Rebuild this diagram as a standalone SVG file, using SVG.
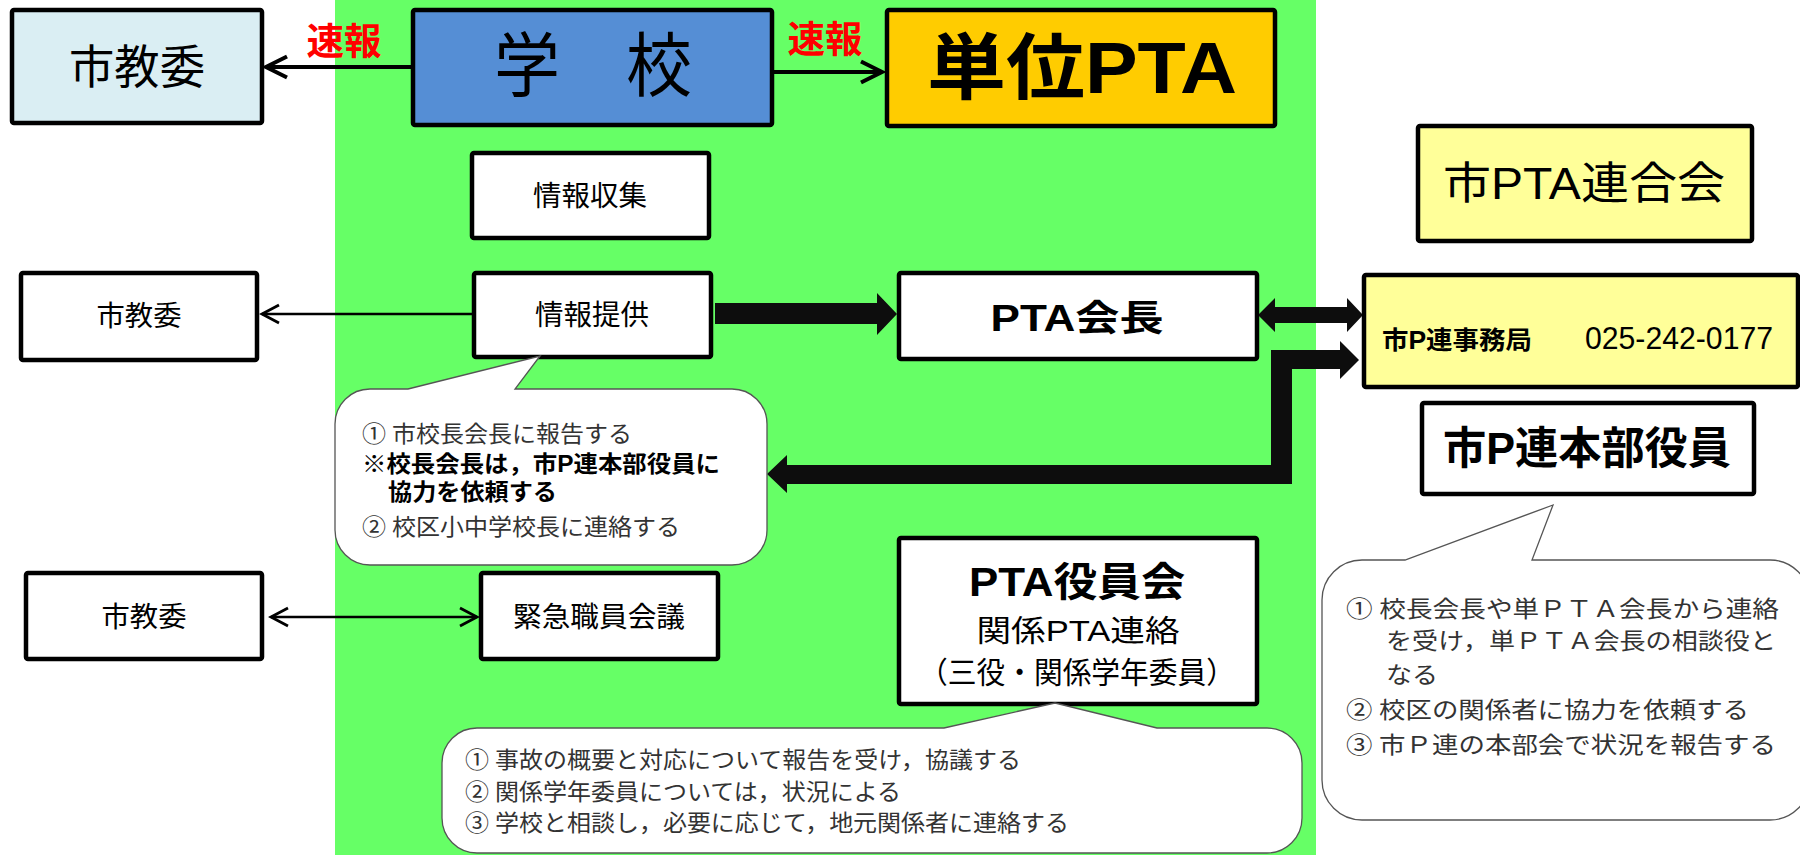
<svg xmlns="http://www.w3.org/2000/svg" width="1800" height="855" viewBox="0 0 1800 855">
<style>
.box{stroke:#000;stroke-width:4.5}
.t{font-family:"Liberation Sans","Noto Sans CJK JP",sans-serif;text-anchor:middle;dominant-baseline:central;fill:#000}
.b{font-weight:700}
.c{font-family:"Liberation Serif","Noto Sans CJK JP",serif;dominant-baseline:central;fill:#333;font-size:23px}
.cb{font-family:"Liberation Sans","Noto Sans CJK JP",sans-serif;font-weight:700;fill:#000}
.callout{fill:#fff;stroke:#555;stroke-width:1.3}
.thin{stroke:#000;stroke-width:2.5;fill:none}
.med{stroke:#000;stroke-width:4;fill:none}
.fat{fill:#0d0d0d}
.red{font-family:"Liberation Sans","Noto Sans CJK JP",sans-serif;font-weight:700;fill:#f00;font-size:37px;text-anchor:middle;dominant-baseline:central}
</style>
<defs>
<marker id="chevM" markerUnits="userSpaceOnUse" viewBox="0 0 28 28" markerWidth="28" markerHeight="28" refX="24" refY="14" orient="auto-start-reverse">
<path d="M3,3.5 L24,14 L3,24.5" fill="none" stroke="#000" stroke-width="4" stroke-linejoin="miter"/>
</marker>
<marker id="chevT" markerUnits="userSpaceOnUse" viewBox="0 0 24 24" markerWidth="24" markerHeight="24" refX="20" refY="12" orient="auto-start-reverse">
<path d="M3,3 L20,12 L3,21" fill="none" stroke="#000" stroke-width="2.8"/>
</marker>
</defs>
<rect x="0" y="0" width="1800" height="855" fill="#fff"/>
<rect id="green-area" x="335" y="0" width="981" height="855" fill="#66ff66"/>

<g id="connectors">
<line class="med" x1="413" y1="67" x2="266" y2="67" marker-end="url(#chevM)"/>
<line class="med" x1="772" y1="72" x2="882" y2="72" marker-end="url(#chevM)"/>
<line class="thin" x1="474" y1="314" x2="262" y2="314" marker-end="url(#chevT)"/>
<line class="thin" x1="271" y1="617" x2="477" y2="617" marker-start="url(#chevT)" marker-end="url(#chevT)"/>
<path class="fat" d="M715,303 L877,303 L877,293 L897,314 L877,335 L877,324 L715,324 Z"/>
<path class="fat" d="M1258,315 L1275,298 L1275,307 L1347,307 L1347,298 L1363,315 L1347,332 L1347,323 L1275,323 L1275,332 Z"/>
<path class="fat" d="M767,474 L787,455 L787,465 L1271,465 L1271,350 L1340,350 L1340,341 L1359,360 L1340,379 L1340,369 L1292,369 L1292,484 L787,484 L787,493 Z"/>
<text class="red" x="344" y="42" textLength="75" lengthAdjust="spacingAndGlyphs">速報</text>
<text class="red" x="825" y="40" textLength="75" lengthAdjust="spacingAndGlyphs">速報</text>
</g>

<g id="n-shikyoi-top">
<rect class="box" x="12" y="10" width="250" height="113" rx="2" fill="#daeef3"/>
<text class="t" x="137" y="67" font-size="46" textLength="136" lengthAdjust="spacingAndGlyphs">市教委</text>
</g>
<g id="n-gakko">
<rect class="box" x="413" y="10" width="359" height="115" rx="2" fill="#558ed5"/>
<text class="t" x="593" y="67" font-size="70" textLength="198" lengthAdjust="spacingAndGlyphs">学　校</text>
</g>
<g id="n-tanipta">
<rect class="box" x="887" y="10" width="388" height="116" rx="2" fill="#ffcc00"/>
<text class="t b" x="1082" y="68" font-size="72" textLength="310" lengthAdjust="spacingAndGlyphs">単位PTA</text>
</g>
<g id="n-shipta">
<rect class="box" x="1418" y="126" width="334" height="115" rx="2" fill="#ffff99"/>
<text class="t" x="1584" y="183" font-size="44" textLength="282" lengthAdjust="spacingAndGlyphs">市PTA連合会</text>
</g>
<g id="n-joho-shushu">
<rect class="box" x="472" y="153" width="237" height="85" rx="2" fill="#fff"/>
<text class="t" x="590" y="196" font-size="28" textLength="114" lengthAdjust="spacingAndGlyphs">情報収集</text>
</g>
<g id="n-joho-teikyo">
<rect class="box" x="474" y="273" width="237" height="84" rx="2" fill="#fff"/>
<text class="t" x="592" y="315" font-size="28" textLength="114" lengthAdjust="spacingAndGlyphs">情報提供</text>
</g>
<g id="n-shikyoi-mid">
<rect class="box" x="21" y="273" width="236" height="87" rx="2" fill="#fff"/>
<text class="t" x="139" y="316" font-size="28" textLength="85" lengthAdjust="spacingAndGlyphs">市教委</text>
</g>
<g id="n-pta-kaicho">
<rect class="box" x="899" y="273" width="358" height="86" rx="2" fill="#fff"/>
<text class="t b" x="1077" y="318" font-size="36" textLength="173" lengthAdjust="spacingAndGlyphs">PTA会長</text>
</g>
<g id="n-jimukyoku">
<rect class="box" x="1364" y="275" width="434" height="112" rx="2" fill="#ffff99"/>
<text class="t b" x="1382" y="340" font-size="25" text-anchor="start" style="text-anchor:start" textLength="150" lengthAdjust="spacingAndGlyphs">市P連事務局</text>
<text class="t" x="1585" y="338" font-size="31" style="text-anchor:start" textLength="188" lengthAdjust="spacingAndGlyphs">025-242-0177</text>
</g>
<g id="n-honbu">
<rect class="box" x="1422" y="403" width="332" height="91" rx="2" fill="#fff"/>
<text class="t b" x="1587" y="448" font-size="44" textLength="288" lengthAdjust="spacingAndGlyphs">市P連本部役員</text>
</g>
<g id="n-shikyoi-bottom">
<rect class="box" x="26" y="573" width="236" height="86" rx="2" fill="#fff"/>
<text class="t" x="144" y="617" font-size="28" textLength="85" lengthAdjust="spacingAndGlyphs">市教委</text>
</g>
<g id="n-kinkyu">
<rect class="box" x="481" y="573" width="237" height="86" rx="2" fill="#fff"/>
<text class="t" x="599" y="617" font-size="28" textLength="172" lengthAdjust="spacingAndGlyphs">緊急職員会議</text>
</g>
<g id="n-yakuinkai">
<rect class="box" x="899" y="538" width="358" height="166" rx="2" fill="#fff"/>
<text class="t b" x="1077" y="582" font-size="40" textLength="216" lengthAdjust="spacingAndGlyphs">PTA役員会</text>
<text class="t" x="1078" y="630" font-size="30" textLength="203" lengthAdjust="spacingAndGlyphs">関係PTA連絡</text>
<text class="t" x="1077" y="672" font-size="30" textLength="316" lengthAdjust="spacingAndGlyphs">（三役・関係学年委員）</text>
</g>

<g id="callout-teikyo">
<path class="callout" d="M370,389 H408 L540,356 L515,389 H732 A35,35 0 0 1 767,424 V530 A35,35 0 0 1 732,565 H370 A35,35 0 0 1 335,530 V424 A35,35 0 0 1 370,389 Z"/>
<text class="c" x="362" y="434" textLength="270" lengthAdjust="spacingAndGlyphs">①  市校長会長に報告する</text>
<text class="c cb" x="362" y="464" font-size="24" textLength="358" lengthAdjust="spacingAndGlyphs">※校長会長は，市P連本部役員に</text>
<text class="c cb" x="388" y="492" font-size="24" textLength="169" lengthAdjust="spacingAndGlyphs">協力を依頼する</text>
<text class="c" x="362" y="527" textLength="318" lengthAdjust="spacingAndGlyphs">②  校区小中学校長に連絡する</text>
</g>

<g id="callout-yakuin">
<path class="callout" d="M477,728 H944 L1055,703 L1157,728 H1267 A35,35 0 0 1 1302,763 V818 A35,35 0 0 1 1267,853 H477 A35,35 0 0 1 442,818 V763 A35,35 0 0 1 477,728 Z"/>
<text class="c" x="465" y="760" textLength="556" lengthAdjust="spacingAndGlyphs">①  事故の概要と対応について報告を受け，協議する</text>
<text class="c" x="465" y="792" textLength="436" lengthAdjust="spacingAndGlyphs">②  関係学年委員については，状況による</text>
<text class="c" x="465" y="823" textLength="604" lengthAdjust="spacingAndGlyphs">③  学校と相談し，必要に応じて，地元関係者に連絡する</text>
</g>

<g id="callout-honbu">
<path class="callout" d="M1362,560 H1405 L1553,505 L1532,560 H1770 A40,40 0 0 1 1810,600 V780 A40,40 0 0 1 1770,820 H1362 A40,40 0 0 1 1322,780 V600 A40,40 0 0 1 1362,560 Z"/>
<text class="c" x="1346" y="609" font-size="26" textLength="433" lengthAdjust="spacingAndGlyphs">①  校長会長や単ＰＴＡ会長から連絡</text>
<text class="c" x="1386" y="641" font-size="26" textLength="390" lengthAdjust="spacingAndGlyphs">を受け，単ＰＴＡ会長の相談役と</text>
<text class="c" x="1386" y="675" font-size="26" textLength="52" lengthAdjust="spacingAndGlyphs">なる</text>
<text class="c" x="1346" y="710" font-size="26" textLength="403" lengthAdjust="spacingAndGlyphs">②  校区の関係者に協力を依頼する</text>
<text class="c" x="1346" y="745" font-size="26" textLength="430" lengthAdjust="spacingAndGlyphs">③  市Ｐ連の本部会で状況を報告する</text>
</g>
</svg>
